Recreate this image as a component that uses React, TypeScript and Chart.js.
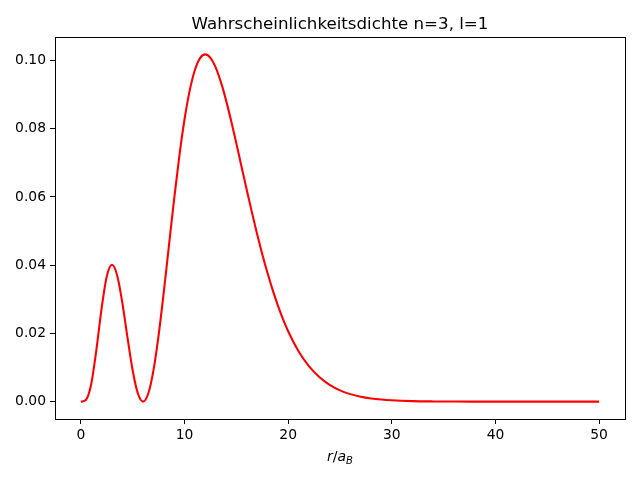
import React, { useEffect, useRef } from "react";
import { Chart, registerables } from "chart.js";

Chart.register(...registerables);

const titleText = "Wahrscheinlichkeitsdichte n=3, l=1";
const rValues = [
  0, 0.5, 1, 1.5, 2, 2.5, 3, 3.5, 4, 4.5, 5, 5.5, 6, 6.5, 7, 7.5, 8, 8.5, 9, 9.5,
  10, 10.5, 11, 11.5, 12, 12.5, 13, 13.5, 14, 14.5, 15, 15.5, 16, 16.5, 17, 17.5,
  18, 18.5, 19, 19.5, 20, 21, 22, 23, 24, 25, 26, 27, 28, 29, 30, 32, 34, 36, 38,
  40, 42, 44, 46, 48, 50,
];
const density = [
  0, 0.00055, 0.00522, 0.01533, 0.02743, 0.03674, 0.0401, 0.03696, 0.02892, 0.01867,
  0.00906, 0.00238, 0, 0.00238, 0.00918, 0.0195, 0.03215, 0.04588, 0.05949, 0.07204,
  0.08276, 0.09123, 0.09721, 0.10069, 0.10178, 0.10077, 0.09797, 0.09371, 0.08837,
  0.08225, 0.07567, 0.06887, 0.06209, 0.05547, 0.04916, 0.04323, 0.03775, 0.03275,
  0.02823, 0.02421, 0.02064, 0.01479, 0.0104, 0.0072, 0.00492, 0.00331, 0.0022,
  0.00145, 0.000945, 0.00061, 0.00039, 0.000156, 0.000061, 0.000023, 0.0000086,
  0.0000031, 0.000001, 0, 0, 0, 0,
];
const xTicks = [0, 10, 20, 30, 40, 50];
const yTicks = [0, 0.02, 0.04, 0.06, 0.08, 0.1];

const FONT = "'DejaVu Sans', sans-serif";

export default function App() {
  const ref = useRef<HTMLCanvasElement | null>(null);
  useEffect(() => {
    const canvas = ref.current!;
    const framePlugin = {
      id: "frame",
      afterDraw(chart: any) {
        const { ctx, chartArea } = chart;
        ctx.save();
        ctx.strokeStyle = "#000";
        ctx.lineWidth = 1;
        ctx.strokeRect(
          Math.round(chartArea.left) + 0.5,
          Math.round(chartArea.top) + 0.5,
          Math.round(chartArea.right - chartArea.left),
          Math.round(chartArea.bottom - chartArea.top)
        );
        // title
        const cx = (chartArea.left + chartArea.right) / 2;
        ctx.fillStyle = "#000";
        ctx.textAlign = "center";
        ctx.textBaseline = "alphabetic";
        ctx.font = `16.67px ${FONT}`;
        ctx.fillText(titleText, cx, chartArea.top - 8);
        // x label r/a_B
        const base = 461;
        ctx.textAlign = "left";
        const f1 = `italic 14px ${FONT}`;
        const f2 = `14px ${FONT}`;
        const f3 = `italic 10px ${FONT}`;
        const parts: [string, string, number][] = [
          ["r", f1, 0],
          ["/", f2, 0],
          ["a", f1, 0],
          ["B", f3, 3],
        ];
        let w = 0;
        for (const [t, f] of parts) {
          ctx.font = f;
          w += ctx.measureText(t).width;
        }
        let x = cx - w / 2;
        for (const [t, f, dy] of parts) {
          ctx.font = f;
          ctx.fillText(t, x, base + dy);
          x += ctx.measureText(t).width;
        }
        ctx.restore();
      },
    };
    const chart = new Chart(canvas, {
      type: "line",
      data: {
        datasets: [
          {
            data: rValues.map((r, i) => ({ x: r, y: density[i] })),
            borderColor: "#ff0000",
            borderWidth: 2.08,
            pointRadius: 0,
            cubicInterpolationMode: "monotone",
            fill: false,
          },
        ],
      },
      options: {
        animation: false,
        responsive: false,
        maintainAspectRatio: false,
        layout: { padding: { left: 0, right: 15, top: 37, bottom: 0 } },
        plugins: { legend: { display: false }, tooltip: { enabled: false }, title: { display: false } },
        scales: {
          x: {
            type: "linear",
            min: -2.5,
            max: 52.5,
            afterBuildTicks: (s: any) => {
              s.ticks = xTicks.map((v) => ({ value: v }));
            },
            afterFit: (s: any) => {
              s.height = 61;
            },
            ticks: {
              color: "#000",
              font: { family: FONT, size: 13.89 },
              padding: 3,
              maxRotation: 0,
              callback: (v: any) => String(v),
            },
            grid: { drawOnChartArea: false, drawTicks: true, tickLength: 5, color: "#000" },
            border: { display: false },
          },
          y: {
            type: "linear",
            min: -0.00509,
            max: 0.10687,
            afterBuildTicks: (s: any) => {
              s.ticks = yTicks.map((v) => ({ value: v }));
            },
            afterFit: (s: any) => {
              s.width = 55;
            },
            ticks: {
              color: "#000",
              font: { family: FONT, size: 13.89 },
              padding: 4,
              callback: (v: any) => Number(v).toFixed(2),
            },
            grid: { drawOnChartArea: false, drawTicks: true, tickLength: 5, color: "#000" },
            border: { display: false },
          },
        },
      },
      plugins: [framePlugin],
    } as any);
    return () => chart.destroy();
  }, []);
  return (
    <div style={{ position: "fixed", left: 0, top: 0, width: 640, height: 480, background: "#fff" }}>
      <canvas ref={ref} width={640} height={480} style={{ width: 640, height: 480 }} />
    </div>
  );
}
